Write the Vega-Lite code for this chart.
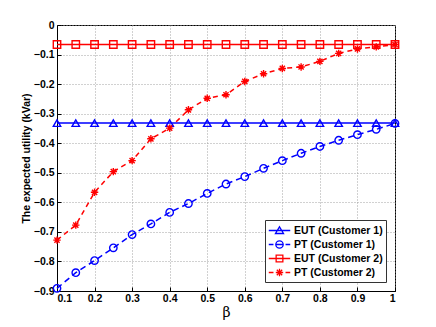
{
  "$schema": "https://vega.github.io/schema/vega-lite/v6.json",
  "width": 338,
  "height": 266,
  "autosize": "none",
  "padding": {"left": 57, "top": 25, "right": 41, "bottom": 36},
  "config": {
    "view": {"stroke": "black", "strokeWidth": 1},
    "font": "Liberation Sans",
    "axis": {
      "domainColor": "black",
      "tickColor": "black",
      "gridColor": "#999999",
      "gridDash": [1, 2],
      "gridOpacity": 0.9,
      "labelFont": "Liberation Sans",
      "labelFontSize": 10.5,
      "labelFontWeight": "bold",
      "labelColor": "black",
      "titleColor": "black"
    }
  },
  "data": {
    "values": [
      {"series": "EUT (Customer 1)", "beta": 0.1, "u": -0.332},
      {"series": "EUT (Customer 1)", "beta": 0.15, "u": -0.332},
      {"series": "EUT (Customer 1)", "beta": 0.2, "u": -0.332},
      {"series": "EUT (Customer 1)", "beta": 0.25, "u": -0.332},
      {"series": "EUT (Customer 1)", "beta": 0.3, "u": -0.332},
      {"series": "EUT (Customer 1)", "beta": 0.35, "u": -0.332},
      {"series": "EUT (Customer 1)", "beta": 0.4, "u": -0.332},
      {"series": "EUT (Customer 1)", "beta": 0.45, "u": -0.332},
      {"series": "EUT (Customer 1)", "beta": 0.5, "u": -0.332},
      {"series": "EUT (Customer 1)", "beta": 0.55, "u": -0.332},
      {"series": "EUT (Customer 1)", "beta": 0.6, "u": -0.332},
      {"series": "EUT (Customer 1)", "beta": 0.65, "u": -0.332},
      {"series": "EUT (Customer 1)", "beta": 0.7, "u": -0.332},
      {"series": "EUT (Customer 1)", "beta": 0.75, "u": -0.332},
      {"series": "EUT (Customer 1)", "beta": 0.8, "u": -0.332},
      {"series": "EUT (Customer 1)", "beta": 0.85, "u": -0.332},
      {"series": "EUT (Customer 1)", "beta": 0.9, "u": -0.332},
      {"series": "EUT (Customer 1)", "beta": 0.95, "u": -0.332},
      {"series": "EUT (Customer 1)", "beta": 1.0, "u": -0.332},
      {"series": "PT (Customer 1)", "beta": 0.1, "u": -0.891},
      {"series": "PT (Customer 1)", "beta": 0.15, "u": -0.838},
      {"series": "PT (Customer 1)", "beta": 0.2, "u": -0.797},
      {"series": "PT (Customer 1)", "beta": 0.25, "u": -0.754},
      {"series": "PT (Customer 1)", "beta": 0.3, "u": -0.709},
      {"series": "PT (Customer 1)", "beta": 0.35, "u": -0.673},
      {"series": "PT (Customer 1)", "beta": 0.4, "u": -0.634},
      {"series": "PT (Customer 1)", "beta": 0.45, "u": -0.604},
      {"series": "PT (Customer 1)", "beta": 0.5, "u": -0.57},
      {"series": "PT (Customer 1)", "beta": 0.55, "u": -0.538},
      {"series": "PT (Customer 1)", "beta": 0.6, "u": -0.513},
      {"series": "PT (Customer 1)", "beta": 0.65, "u": -0.485},
      {"series": "PT (Customer 1)", "beta": 0.7, "u": -0.459},
      {"series": "PT (Customer 1)", "beta": 0.75, "u": -0.434},
      {"series": "PT (Customer 1)", "beta": 0.8, "u": -0.411},
      {"series": "PT (Customer 1)", "beta": 0.85, "u": -0.39},
      {"series": "PT (Customer 1)", "beta": 0.9, "u": -0.371},
      {"series": "PT (Customer 1)", "beta": 0.95, "u": -0.353},
      {"series": "PT (Customer 1)", "beta": 1.0, "u": -0.333},
      {"series": "EUT (Customer 2)", "beta": 0.1, "u": -0.066},
      {"series": "EUT (Customer 2)", "beta": 0.15, "u": -0.066},
      {"series": "EUT (Customer 2)", "beta": 0.2, "u": -0.066},
      {"series": "EUT (Customer 2)", "beta": 0.25, "u": -0.066},
      {"series": "EUT (Customer 2)", "beta": 0.3, "u": -0.066},
      {"series": "EUT (Customer 2)", "beta": 0.35, "u": -0.066},
      {"series": "EUT (Customer 2)", "beta": 0.4, "u": -0.066},
      {"series": "EUT (Customer 2)", "beta": 0.45, "u": -0.066},
      {"series": "EUT (Customer 2)", "beta": 0.5, "u": -0.066},
      {"series": "EUT (Customer 2)", "beta": 0.55, "u": -0.066},
      {"series": "EUT (Customer 2)", "beta": 0.6, "u": -0.066},
      {"series": "EUT (Customer 2)", "beta": 0.65, "u": -0.066},
      {"series": "EUT (Customer 2)", "beta": 0.7, "u": -0.066},
      {"series": "EUT (Customer 2)", "beta": 0.75, "u": -0.066},
      {"series": "EUT (Customer 2)", "beta": 0.8, "u": -0.066},
      {"series": "EUT (Customer 2)", "beta": 0.85, "u": -0.066},
      {"series": "EUT (Customer 2)", "beta": 0.9, "u": -0.066},
      {"series": "EUT (Customer 2)", "beta": 0.95, "u": -0.066},
      {"series": "EUT (Customer 2)", "beta": 1.0, "u": -0.066},
      {"series": "PT (Customer 2)", "beta": 0.1, "u": -0.728},
      {"series": "PT (Customer 2)", "beta": 0.15, "u": -0.677},
      {"series": "PT (Customer 2)", "beta": 0.2, "u": -0.566},
      {"series": "PT (Customer 2)", "beta": 0.25, "u": -0.496},
      {"series": "PT (Customer 2)", "beta": 0.3, "u": -0.459},
      {"series": "PT (Customer 2)", "beta": 0.35, "u": -0.385},
      {"series": "PT (Customer 2)", "beta": 0.4, "u": -0.349},
      {"series": "PT (Customer 2)", "beta": 0.45, "u": -0.287},
      {"series": "PT (Customer 2)", "beta": 0.5, "u": -0.248},
      {"series": "PT (Customer 2)", "beta": 0.55, "u": -0.236},
      {"series": "PT (Customer 2)", "beta": 0.6, "u": -0.191},
      {"series": "PT (Customer 2)", "beta": 0.65, "u": -0.165},
      {"series": "PT (Customer 2)", "beta": 0.7, "u": -0.147},
      {"series": "PT (Customer 2)", "beta": 0.75, "u": -0.142},
      {"series": "PT (Customer 2)", "beta": 0.8, "u": -0.123},
      {"series": "PT (Customer 2)", "beta": 0.85, "u": -0.096},
      {"series": "PT (Customer 2)", "beta": 0.9, "u": -0.081},
      {"series": "PT (Customer 2)", "beta": 0.95, "u": -0.074},
      {"series": "PT (Customer 2)", "beta": 1.0, "u": -0.066}
    ]
  },
  "encoding": {
    "x": {
      "field": "beta", "type": "quantitative",
      "scale": {"domain": [0.1, 1], "nice": false, "zero": false},
      "axis": {
        "values": [0.1, 0.2, 0.3, 0.4, 0.5, 0.6, 0.7, 0.8, 0.9, 1],
        "format": "~g",
        "title": "β",
        "titleFont": "DejaVu Serif",
        "titleFontSize": 14,
        "titleFontWeight": "normal",
        "titlePadding": 2,
        "tickSize": -4,
        "labelPadding": 6
      }
    },
    "y": {
      "field": "u", "type": "quantitative",
      "scale": {"domain": [-0.9, 0], "nice": false, "zero": false},
      "axis": {
        "values": [-0.9, -0.8, -0.7, -0.6, -0.5, -0.4, -0.3, -0.2, -0.1, 0],
        "format": "~g",
        "title": "The expected utility (kVar)",
        "titleFont": "Liberation Sans",
        "titleFontSize": 10.5,
        "titleFontWeight": "bold",
        "titlePadding": 2,
        "tickSize": -4,
        "labelPadding": 7
      }
    }
  },
  "layer": [
    {
      "mark": {"type": "line", "strokeWidth": 1.5},
      "encoding": {
        "color": {
          "field": "series", "type": "nominal",
          "scale": {"domain": ["EUT (Customer 1)", "PT (Customer 1)", "EUT (Customer 2)", "PT (Customer 2)"], "range": ["#0000ff", "#0000ff", "#ff0000", "#ff0000"]},
          "legend": null
        },
        "strokeDash": {
          "field": "series", "type": "nominal",
          "scale": {"domain": ["EUT (Customer 1)", "PT (Customer 1)", "EUT (Customer 2)", "PT (Customer 2)"], "range": [[1, 0], [6, 4], [1, 0], [5, 4]]},
          "legend": null
        }
      }
    },
    {
      "mark": {"type": "point", "filled": false, "size": 55, "strokeWidth": 1.4, "opacity": 1},
      "encoding": {
        "color": {
          "field": "series", "type": "nominal",
          "scale": {"domain": ["EUT (Customer 1)", "PT (Customer 1)", "EUT (Customer 2)", "PT (Customer 2)"], "range": ["#0000ff", "#0000ff", "#ff0000", "#ff0000"]},
          "legend": null
        },
        "shape": {
          "field": "series", "type": "nominal",
          "scale": {"domain": ["EUT (Customer 1)", "PT (Customer 1)", "EUT (Customer 2)", "PT (Customer 2)"], "range": ["triangle-up", "circle", "square", "M-1,0H1M0,-1V1M-0.7,-0.7L0.7,0.7M-0.7,0.7L0.7,-0.7"]},
          "legend": null
        }
      }
    },
    {
      "mark": {"type": "point", "filled": false, "size": 1, "opacity": 0},
      "encoding": {
        "color": {
          "field": "series", "type": "nominal",
          "scale": {"domain": ["EUT (Customer 1)", "PT (Customer 1)", "EUT (Customer 2)", "PT (Customer 2)"], "range": ["#0000ff", "#0000ff", "#ff0000", "#ff0000"]},
          "legend": {
            "title": null,
            "orient": "bottom-right",
            "offset": 9,
            "padding": 3,
            "strokeColor": "#333333",
            "fillColor": "white",
            "symbolSize": 180,
            "symbolStrokeWidth": 1.3,
            "symbolOpacity": 1,
            "symbolOffset": 4,
            "labelFont": "Liberation Sans",
            "labelFontSize": 10.5,
            "labelFontWeight": "bold",
            "labelColor": "black",
            "labelOffset": 7,
            "rowPadding": 0
          }
        },
        "shape": {
          "field": "series", "type": "nominal",
          "scale": {"domain": ["EUT (Customer 1)", "PT (Customer 1)", "EUT (Customer 2)", "PT (Customer 2)"], "range": [
            "M-1.6,0H1.6M0,-0.55L0.6,0.45L-0.6,0.45Z",
            "M-1.6,0H-0.9M-0.55,0H0.55M0.9,0H1.6M0.55,0A0.55,0.55 0 1,1 -0.55,0A0.55,0.55 0 1,1 0.55,0",
            "M-1.6,0H1.6M-0.5,-0.5H0.5V0.5H-0.5Z",
            "M-1.6,0H-0.9M-0.55,0H0.55M0.9,0H1.6M0,-0.55V0.55M-0.4,-0.4L0.4,0.4M-0.4,0.4L0.4,-0.4"
          ]}
        }
      }
    }
  ],
  "resolve": {"scale": {"color": "independent", "shape": "independent"}}
}
